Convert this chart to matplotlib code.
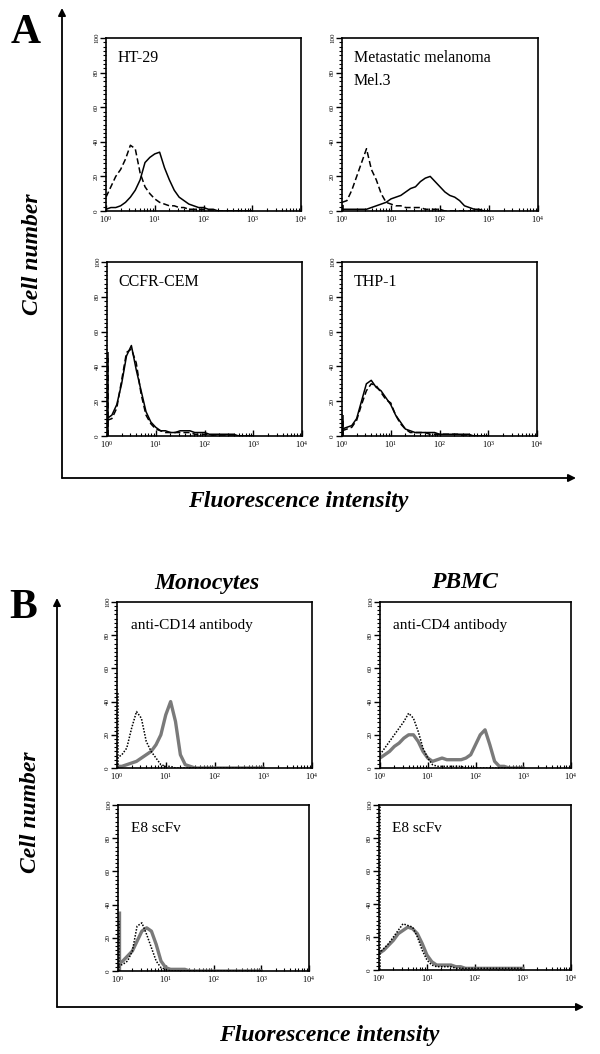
import matplotlib.pyplot as plt
import numpy as np
from matplotlib.ticker import MultipleLocator, LogLocator, NullFormatter

plt.rcParams['font.family'] = ['Liberation Serif', 'DejaVu Serif']

# log10 fluorescence grid (decades), values read at each step
grid = [0.0, 0.1, 0.2, 0.3, 0.4, 0.5, 0.6, 0.7, 0.8, 0.9, 1.0,
        1.1, 1.2, 1.3, 1.4, 1.5, 1.6, 1.7, 1.8, 1.9, 2.0,
        2.1, 2.2, 2.3, 2.4, 2.5, 2.6, 2.7, 2.8, 2.9, 3.0]

# panel A: dashed = control, solid = E8 scFv
ht29_ctrl = [8, 14, 20, 24, 30, 38, 36, 22, 14, 10, 7, 5, 4, 3, 3, 2, 2, 1, 1, 1, 1, 0, 0, 0, 0, 0, 0, 0, 0, 0, 0]
ht29_e8 = [1, 2, 2, 3, 5, 8, 12, 18, 28, 31, 33, 34, 25, 18, 12, 8, 6, 4, 3, 2, 2, 1, 1, 0, 0, 0, 0, 0, 0, 0, 0]
mel3_ctrl = [5, 6, 12, 20, 28, 36, 24, 18, 10, 5, 4, 3, 3, 2, 2, 2, 2, 1, 1, 1, 1, 0, 0, 0, 0, 0, 0, 0, 0, 0, 0]
mel3_e8 = [1, 1, 1, 1, 1, 1, 2, 3, 4, 5, 7, 8, 9, 11, 13, 14, 17, 19, 20, 17, 14, 11, 9, 8, 6, 3, 2, 1, 1, 0, 0]
ccrf_ctrl = [9, 10, 16, 32, 48, 50, 42, 24, 12, 7, 4, 3, 2, 2, 2, 2, 2, 2, 1, 1, 1, 1, 0, 0, 0, 0, 0, 0, 0, 0, 0]
ccrf_e8 = [10, 12, 18, 30, 46, 52, 38, 26, 14, 8, 5, 3, 3, 2, 2, 3, 3, 3, 2, 2, 2, 1, 1, 1, 1, 1, 1, 0, 0, 0, 0]
thp1_ctrl = [3, 4, 5, 9, 18, 26, 30, 29, 25, 21, 19, 12, 7, 4, 2, 2, 2, 2, 1, 1, 1, 1, 1, 1, 1, 0, 0, 0, 0, 0, 0]
thp1_e8 = [4, 5, 6, 10, 20, 30, 32, 28, 26, 22, 18, 12, 8, 4, 3, 2, 2, 2, 2, 2, 1, 1, 1, 1, 1, 1, 1, 0, 0, 0, 0]
# counts piled up in the first channel (ctrl, stained)
first_a = [(0, 0), (5, 0), (45, 48), (10, 12)]

# panel B: dotted = control, grey = stained
cd14_ctrl = [6, 8, 12, 24, 34, 30, 16, 10, 6, 2, 1, 1, 0, 0, 0, 0, 0, 0, 0, 0, 0, 0, 0, 0, 0, 0, 0, 0, 0, 0, 0]
cd14_ab = [1, 1, 2, 3, 4, 6, 8, 10, 14, 20, 32, 40, 28, 8, 2, 1, 0, 0, 0, 0, 0, 0, 0, 0, 0, 0, 0, 0, 0, 0, 0]
cd4_ctrl = [8, 12, 16, 20, 24, 28, 33, 30, 22, 12, 6, 2, 1, 1, 1, 1, 1, 1, 0, 0, 0, 0, 0, 0, 0, 0, 0, 0, 0, 0, 0]
cd4_ab = [6, 8, 10, 13, 15, 18, 20, 20, 16, 10, 6, 4, 5, 6, 5, 5, 5, 5, 6, 8, 14, 20, 23, 14, 4, 1, 1, 0, 0, 0, 0]
mono_ctrl = [3, 4, 6, 12, 27, 29, 22, 14, 6, 2, 1, 0, 0, 0, 0, 0, 0, 0, 0, 0, 0, 0, 0, 0, 0, 0, 0, 0, 0, 0, 0]
mono_e8 = [4, 6, 9, 12, 18, 24, 26, 24, 16, 6, 2, 1, 1, 1, 1, 0, 0, 0, 0, 0, 0, 0, 0, 0, 0, 0, 0, 0, 0, 0, 0]
pbmc_ctrl = [10, 13, 16, 20, 24, 28, 27, 26, 20, 12, 6, 3, 2, 2, 2, 2, 1, 1, 1, 1, 1, 1, 1, 1, 1, 1, 1, 1, 1, 1, 1]
pbmc_e8 = [10, 12, 15, 18, 22, 24, 26, 25, 22, 16, 9, 5, 3, 3, 3, 3, 2, 2, 1, 1, 1, 1, 1, 1, 1, 1, 1, 1, 1, 1, 1]
first_b = [(45, 0), (0, 0), (30, 36), (100, 0)]

labels_a = ['HT-29', 'Metastatic melanoma\nMel.3', 'CCFR-CEM', 'THP-1']
labels_b = ['anti-CD14 antibody', 'anti-CD4 antibody', 'E8 scFv', 'E8 scFv']

W, H = 600, 1054
fig = plt.figure(figsize=(6, 10.54), dpi=100)

# overlay in pixel coordinates for arrows and big labels
ov = fig.add_axes([0, 0, 1, 1])
ov.set_xlim(0, W)
ov.set_ylim(H, 0)
ov.axis('off')


def arrow(x0, y0, x1, y1):
    ov.annotate('', xy=(x1, y1), xytext=(x0, y0),
                arrowprops=dict(arrowstyle='-|>', lw=1.3, color='black',
                                mutation_scale=11, shrinkA=0, shrinkB=0))


arrow(62, 478, 62, 8)
arrow(62, 478, 576, 478)
arrow(57, 1007, 57, 598)
arrow(57, 1007, 584, 1007)

big = dict(fontsize=30, fontweight='bold', ha='center', va='center')
ov.text(26, 33, 'A', **big)
ov.text(23, 608, 'B', **big)
lab = dict(fontsize=17, fontweight='bold', fontstyle='italic', ha='center', va='center')
ov.text(33, 254, 'Cell number', rotation=90, **lab)
ov.text(30, 812, 'Cell number', rotation=90, **lab)
ov.text(298, 502, 'Fluorescence intensity', **lab)
ov.text(329, 1035, 'Fluorescence intensity', **lab)
ov.text(207, 583, 'Monocytes', **lab)
ov.text(464, 583, 'PBMC', **lab)


def hist_axes(l, t, r, b):
    ax = fig.add_axes([l / W, 1 - b / H, (r - l) / W, (b - t) / H])
    ax.set_xscale('log')
    ax.set_xlim(1, 1e4)
    ax.set_ylim(0, 100)
    for s in ax.spines.values():
        s.set_linewidth(1.2)
    ax.yaxis.set_major_locator(MultipleLocator(20))
    ax.yaxis.set_minor_locator(MultipleLocator(2.5))
    ax.xaxis.set_major_locator(LogLocator(base=10))
    ax.xaxis.set_minor_locator(LogLocator(base=10, subs=np.arange(2, 10)))
    ax.xaxis.set_minor_formatter(NullFormatter())
    ax.tick_params(axis='y', which='major', direction='out', length=4, width=1, labelsize=5, pad=1)
    ax.tick_params(axis='y', which='minor', direction='out', length=2, width=0.8)
    ax.tick_params(axis='x', which='major', direction='in', length=4, width=1, labelsize=6, pad=2)
    ax.tick_params(axis='x', which='minor', direction='in', length=2.5, width=0.8)
    for t_ in ax.get_yticklabels():
        t_.set_rotation(90)
        t_.set_va('center')
    return ax


x = 10 ** np.array(grid)
edge = x[0] * 1.04  # first channel, just inside the left spine

boxes_a = [(106, 38, 301, 211), (342, 38, 538, 211), (107, 262, 302, 436), (342, 262, 537, 436)]
ctrl_a = [ht29_ctrl, mel3_ctrl, ccrf_ctrl, thp1_ctrl]
stain_a = [ht29_e8, mel3_e8, ccrf_e8, thp1_e8]
for box, c, s, f, name in zip(boxes_a, ctrl_a, stain_a, first_a, labels_a):
    ax = hist_axes(*box)
    ax.plot(x, c, color='black', lw=1.1, ls=(0, (4, 2)))
    ax.plot(x, s, color='black', lw=1.1)
    ax.vlines(edge, 0, f[0], color='black', lw=1.1, ls=(0, (4, 2)))
    ax.vlines(edge, 0, f[1], color='black', lw=1.1)
    ax.text(0.06, 0.93, name, transform=ax.transAxes, fontsize=11.5,
            va='top', ha='left', linespacing=1.6)

boxes_b = [(117, 602, 312, 768), (380, 602, 571, 768), (118, 805, 309, 971), (379, 805, 571, 970)]
ctrl_b = [cd14_ctrl, cd4_ctrl, mono_ctrl, pbmc_ctrl]
stain_b = [cd14_ab, cd4_ab, mono_e8, pbmc_e8]
for box, c, s, f, name in zip(boxes_b, ctrl_b, stain_b, first_b, labels_b):
    ax = hist_axes(*box)
    ax.plot(x, s, color='#7a7a7a', lw=2.4)
    ax.vlines(edge, 0, f[1], color='#7a7a7a', lw=2.4)
    ax.plot(x, c, color='black', lw=1.1, ls=(0, (1, 1)))
    ax.vlines(edge, 0, f[0], color='black', lw=1.1, ls=(0, (1, 1)))
    ax.text(0.07, 0.86, name, transform=ax.transAxes, fontsize=11,
            va='center', ha='left')

fig.savefig('out.png', dpi=100)
